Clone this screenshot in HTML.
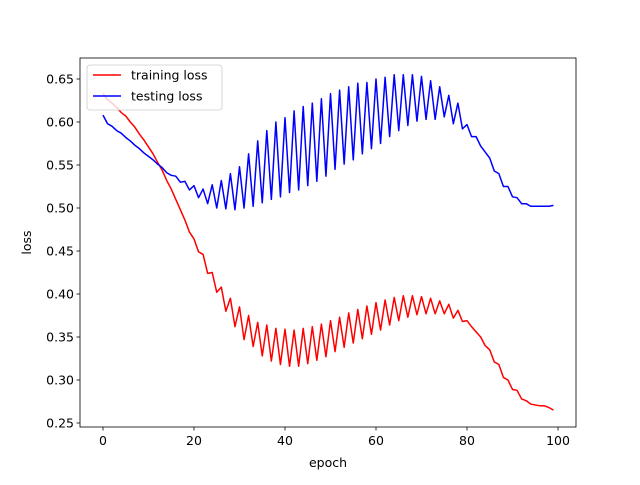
<!DOCTYPE html>
<html><head><meta charset="utf-8"><style>
body{margin:0;background:#fff}
svg{font-family:"DejaVu Sans","Liberation Sans",sans-serif}
</style></head><body>
<svg id="chart" width="640" height="480" viewBox="0 0 640 480">
<rect width="640" height="480" fill="#fff"/>
<g id="plot"></g>
</svg>
<script>
const epochs = Array.from({length:100},(_, i)=>i);
const trainingLoss = [0.633,0.626,0.622,0.617,0.611,0.607,0.600,0.594,0.586,0.579,0.571,0.563,0.553,0.544,0.532,0.522,0.510,0.498,0.486,0.472,0.464,0.449,0.446,0.424,0.425,0.402,0.408,0.380,0.395,0.362,0.385,0.347,0.375,0.339,0.367,0.328,0.364,0.322,0.360,0.318,0.359,0.316,0.358,0.316,0.360,0.319,0.362,0.323,0.365,0.327,0.369,0.333,0.373,0.338,0.378,0.343,0.382,0.348,0.386,0.353,0.390,0.358,0.393,0.364,0.396,0.369,0.398,0.373,0.398,0.376,0.397,0.377,0.395,0.377,0.392,0.377,0.388,0.372,0.381,0.368,0.369,0.362,0.356,0.350,0.340,0.335,0.321,0.318,0.303,0.300,0.289,0.288,0.278,0.276,0.272,0.271,0.270,0.270,0.268,0.265];
const testingLoss = [0.608,0.598,0.595,0.590,0.587,0.582,0.578,0.573,0.569,0.564,0.560,0.556,0.551,0.547,0.541,0.538,0.537,0.530,0.531,0.521,0.526,0.512,0.522,0.505,0.527,0.500,0.532,0.499,0.540,0.498,0.548,0.500,0.563,0.502,0.578,0.506,0.590,0.510,0.600,0.513,0.605,0.518,0.613,0.521,0.618,0.526,0.622,0.531,0.627,0.537,0.633,0.545,0.637,0.551,0.641,0.556,0.645,0.563,0.646,0.569,0.650,0.575,0.652,0.583,0.655,0.590,0.655,0.596,0.655,0.601,0.653,0.603,0.648,0.603,0.641,0.606,0.631,0.598,0.622,0.592,0.597,0.583,0.583,0.572,0.565,0.558,0.543,0.540,0.525,0.525,0.513,0.512,0.505,0.505,0.502,0.502,0.502,0.502,0.502,0.503];
const xTicks = [0,20,40,60,80,100];
const yTicks = [0.25,0.30,0.35,0.40,0.45,0.50,0.55,0.60,0.65];

const L=80,T=58,R=576,B=427;
const FS=12.5;
const xs = v => 103 + v*4.55;
const ys = v => 79 + (0.65 - v)*860;
const NS='http://www.w3.org/2000/svg';
const g=document.getElementById('plot');
function mk(tag, attrs, parent){const e=document.createElementNS(NS,tag);for(const k in attrs)e.setAttribute(k,attrs[k]);(parent||g).appendChild(e);return e;}

function series(arr, color, name){
  const d = arr.map((v,i)=>(i?'L':'M')+xs(epochs[i]).toFixed(2)+','+ys(v).toFixed(2)).join(' ');
  const p = mk('path',{d:d,fill:'none',stroke:color,'stroke-width':1.5,'stroke-linejoin':'round'});
  
  
}
series(trainingLoss,'#ff0000','training-loss-line');
series(testingLoss,'#0000ff','testing-loss-line');

const frame = mk('rect',{x:L,y:T,width:R-L,height:B-T,fill:'none',stroke:'#000','stroke-width':0.8});



xTicks.forEach(t=>{
  const x=xs(t);
  mk('line',{x1:x,y1:B,x2:x,y2:B+3.5,stroke:'#000','stroke-width':0.8});
  const tx=mk('text',{x:x,y:B+18,'text-anchor':'middle','font-size':FS,fill:'#000'});
  tx.textContent=t;
  
  
});
yTicks.forEach(t=>{
  const y=ys(t);
  mk('line',{x1:L,y1:y,x2:L-3.5,y2:y,stroke:'#000','stroke-width':0.8});
  const tx=mk('text',{x:L-6,y:y+4.5,'text-anchor':'end','font-size':FS,fill:'#000'});
  tx.textContent=t.toFixed(2);
  
  
});
const xl=mk('text',{x:(L+R)/2,y:467,'text-anchor':'middle','font-size':FS,fill:'#000'});
xl.textContent='epoch';


const yl=mk('text',{x:0,y:0,'text-anchor':'middle','font-size':FS,fill:'#000',transform:'translate(31,'+((T+B)/2)+') rotate(-90)'});
yl.textContent='loss';



const leg=mk('g',{});


mk('rect',{x:87,y:65,width:135,height:45,rx:3,fill:'#fff','fill-opacity':0.8,stroke:'#ccc','stroke-width':0.8},leg);
[['training loss','#ff0000',75],['testing loss','#0000ff',96]].forEach(([lab,c,y])=>{
  mk('line',{x1:93,y1:y,x2:121,y2:y,stroke:c,'stroke-width':1.5},leg);
  const t=mk('text',{x:131,y:y+4.5,'font-size':FS,fill:'#000'},leg);
  t.textContent=lab;
  
  
});
</script>
</body></html>
